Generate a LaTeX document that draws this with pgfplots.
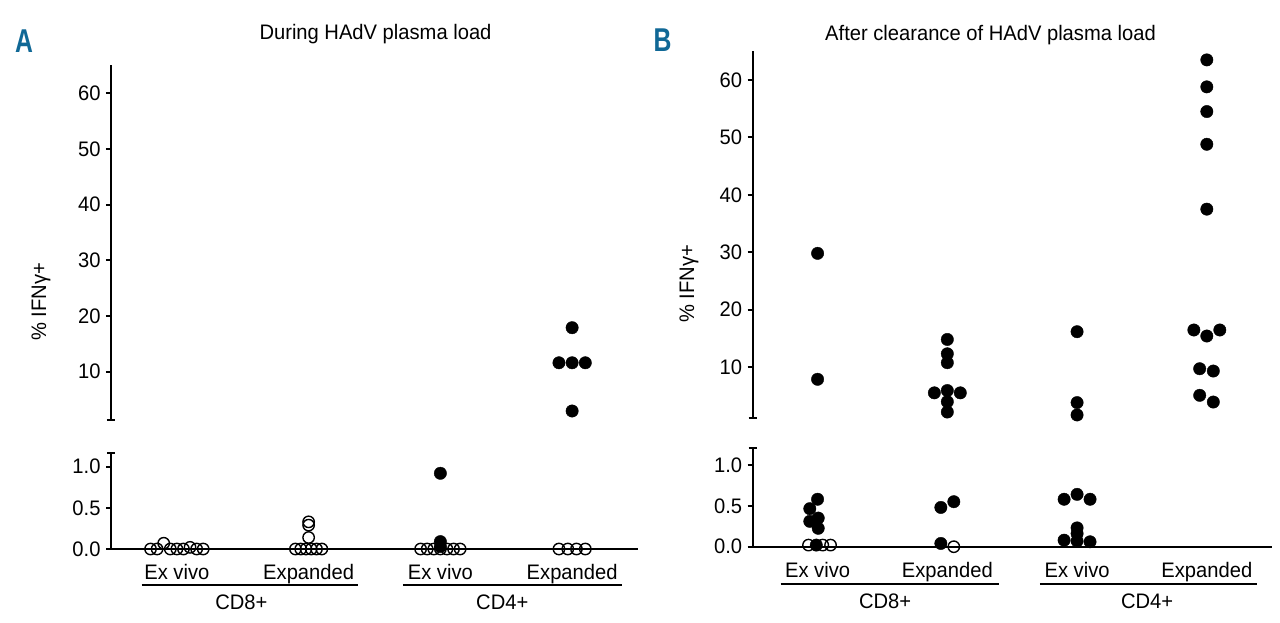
\documentclass[border=0pt]{standalone}
\usepackage{fontspec}
\setmainfont{Liberation Sans}[FakeStretch=0.96]
\newfontfamily\panelfont{Liberation Sans}[FakeStretch=0.75]
\usepackage{pgfplots}
\pgfplotsset{compat=1.18}
\definecolor{panelblue}{RGB}{16,104,150}

\pgfplotsset{
  myax/.style={scale only axis, xmin=-0.5, xmax=3.5, clip=false,
    axis line style={-, line width=2.2pt, black},
    every outer x axis line/.append style={-},
    every outer y axis line/.append style={-},
    x axis line style={-}, y axis line style={-},
    tick style={line width=1.8pt, black},
    tick align=outside, major tick length=5pt,
    /pgf/number format/assume math mode=true,
    tick label style={font=\fontsize{21}{24}\selectfont},
    yticklabel style={xshift=-2pt},
    extra tick style={tick align=center, major tick length=8pt, line width=1.8pt},
  },
  filled/.style={only marks, mark=*, mark size=6.2pt, mark options={fill=black, draw=black}},
  open/.style={only marks, mark=o, mark size=5.7pt, mark options={draw=black, line width=1.4pt}},
}

\begin{document}
\begin{tikzpicture}[font=\fontsize{21}{24}\selectfont]
\useasboundingbox (0pt,0pt) rectangle (1280pt,-622pt);

% ---------------- Panel A -----------------
\node[anchor=base, text=panelblue, font=\panelfont\bfseries\fontsize{33}{33}\selectfont] at (24pt,-52.5pt) {A};
\node[anchor=base] at (375.5pt,-39.5pt) {During HAdV plasma load};
\node[rotate=90, anchor=center] at (41pt,-302pt) {\% IFNγ+};

\begin{axis}[axis y line=left, axis x line=none, myax,
  at={(111pt,-420.3pt)}, anchor=south west,
  width=527pt, height=355.3pt, ymin=1.27, ymax=65.08,
  ytick={10,20,30,40,50,60},
  extra y ticks={1.27}, extra y tick labels={}]
\addplot[filled] coordinates {(3,17.9) (2.9,11.6) (3,11.6) (3.1,11.6) (3,2.94)};
\end{axis}

\begin{axis}[axis lines=left, myax,
  at={(111pt,-549pt)}, anchor=south west,
  width=527pt, height=96.3pt, ymin=0, ymax=1.17,
  xtick=\empty,
  ytick={0,0.5,1}, yticklabels={0.0,0.5,1.0},
  extra y ticks={1.17}, extra y tick labels={}]
\addplot[open] coordinates {(-0.2,0) (-0.15,0) (-0.1,0.07) (-0.05,0) (0,0) (0.05,0) (0.1,0.02) (0.15,0) (0.2,0)};
\addplot[open] coordinates {(0.9,0) (0.94,0) (0.98,0) (1.02,0) (1.06,0) (1.1,0) (1,0.14) (1,0.29) (1,0.33)};
\addplot[open] coordinates {(1.85,0) (1.9,0) (1.95,0) (2,0) (2.05,0) (2.1,0) (2.15,0)};
\addplot[open] coordinates {(2.9,0) (2.967,0) (3.033,0) (3.1,0)};
\addplot[filled] coordinates {(2,0.92) (2,0.09) (2,0.03)};
\node[anchor=base] at ([yshift=-30pt]axis cs:0,0) {Ex vivo};
\node[anchor=base] at ([yshift=-30pt]axis cs:1,0) {Expanded};
\node[anchor=base] at ([yshift=-30pt]axis cs:2,0) {Ex vivo};
\node[anchor=base] at ([yshift=-30pt]axis cs:3,0) {Expanded};
\draw[line width=1.8pt] ([yshift=-36pt]axis cs:-0.267,0) -- ([yshift=-36pt]axis cs:1.375,0);
\draw[line width=1.8pt] ([yshift=-36pt]axis cs:1.716,0) -- ([yshift=-36pt]axis cs:3.378,0);
\node[anchor=base] at ([yshift=-60pt]axis cs:0.49,0) {CD8+};
\node[anchor=base] at ([yshift=-60pt]axis cs:2.47,0) {CD4+};
\end{axis}

% ---------------- Panel B -----------------
\node[anchor=base, text=panelblue, font=\panelfont\bfseries\fontsize{33}{33}\selectfont] at (662.5pt,-51.7pt) {B};
\node[anchor=base] at (990.5pt,-40.5pt) {After clearance of HAdV plasma load};
\node[rotate=90, anchor=center] at (689pt,-284pt) {\% IFNγ+};

\begin{axis}[axis y line=left, axis x line=none, myax,
  at={(752.7pt,-417.7pt)}, anchor=south west,
  width=519pt, height=367pt, ymin=1.17, ymax=65.1,
  ytick={10,20,30,40,50,60},
  extra y ticks={1.17}, extra y tick labels={}]
\addplot[filled] coordinates {(0,29.8) (0,7.86)};
\addplot[filled] coordinates {(1,14.8) (1,12.3) (1,10.75) (0.9,5.5) (1,5.9) (1.1,5.5) (1,3.96) (1,2.16)};
\addplot[filled] coordinates {(2,16.15) (2,3.8) (2,1.65)};
\addplot[filled] coordinates {(3,63.5) (3,58.8) (3,54.5) (3,48.8) (3,37.5) (2.9,16.45) (3,15.4) (3.1,16.45) (2.945,9.7) (3.05,9.3) (2.945,5.07) (3.05,3.9)};
\end{axis}

\begin{axis}[axis lines=left, myax,
  at={(752.7pt,-546.7pt)}, anchor=south west,
  width=519pt, height=99pt, ymin=0, ymax=1.21,
  xtick=\empty,
  ytick={0,0.5,1}, yticklabels={0.0,0.5,1.0},
  extra y ticks={1.21}, extra y tick labels={}]
\addplot[open] coordinates {(-0.07,0.02) (0.04,0.02) (0.1,0.02) (1.05,0)};
\addplot[filled] coordinates {(0,0.58) (-0.06,0.465) (0.005,0.35) (-0.06,0.31) (0.005,0.225) (-0.01,0.02)};
\addplot[filled] coordinates {(0.95,0.48) (1.05,0.55) (0.95,0.04)};
\addplot[filled] coordinates {(1.9,0.58) (2,0.64) (2.1,0.58) (2,0.23) (2,0.16) (1.9,0.08) (2,0.07) (2.1,0.06)};
\node[anchor=base] at ([yshift=-31pt]axis cs:0,0) {Ex vivo};
\node[anchor=base] at ([yshift=-31pt]axis cs:1,0) {Expanded};
\node[anchor=base] at ([yshift=-31pt]axis cs:2,0) {Ex vivo};
\node[anchor=base] at ([yshift=-31pt]axis cs:3,0) {Expanded};
\draw[line width=1.8pt] ([yshift=-37.3pt]axis cs:-0.284,0) -- ([yshift=-37.3pt]axis cs:1.40,0);
\draw[line width=1.8pt] ([yshift=-37.3pt]axis cs:1.714,0) -- ([yshift=-37.3pt]axis cs:3.39,0);
\node[anchor=base] at ([yshift=-62pt]axis cs:0.52,0) {CD8+};
\node[anchor=base] at ([yshift=-62pt]axis cs:2.54,0) {CD4+};
\end{axis}
\end{tikzpicture}
\end{document}
